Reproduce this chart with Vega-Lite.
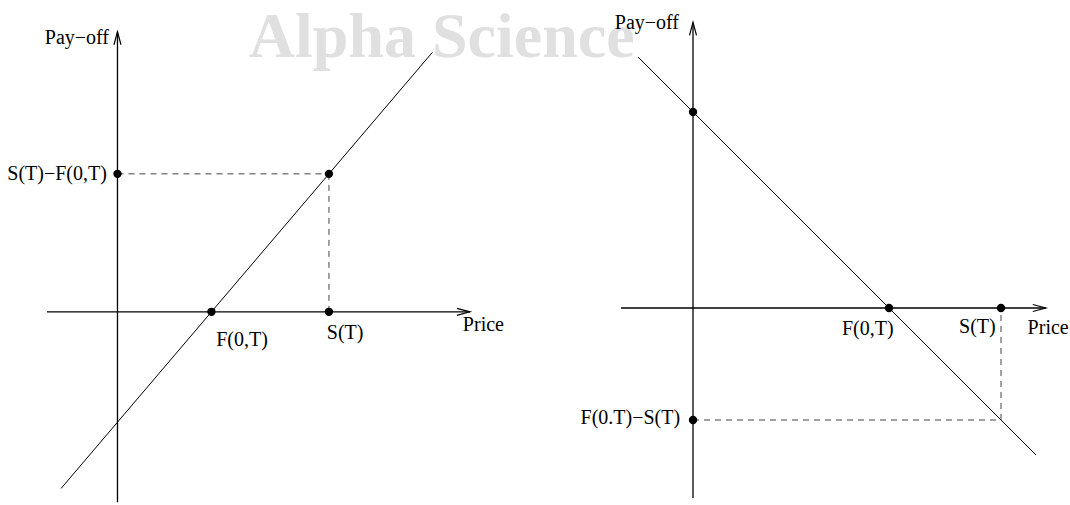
{
  "$schema": "https://vega.github.io/schema/vega-lite/v6.json",
  "padding": 0,
  "spacing": 0,
  "bounds": "flush",
  "background": "white",
  "config": {"view": {"stroke": null}},
  "hconcat": [
    {
      "width": 535,
      "height": 505,
      "encoding": {
        "x": {"field": "x", "type": "quantitative", "scale": {"domain": [-5, 17.77], "nice": false, "zero": false}, "axis": null},
        "y": {"field": "y", "type": "quantitative", "scale": {"domain": [-7, 11.3], "nice": false, "zero": false}, "axis": null}
      },
      "layer": [
        {
          "data": {"values": [{"x": 13.8, "y": 9.23, "label": "Alpha Science"}]},
          "mark": {"type": "text", "font": "Liberation Serif", "fontWeight": "bold", "fontSize": 64, "color": "#e0e0e0", "align": "center", "baseline": "alphabetic"},
          "encoding": {"text": {"field": "label"}}
        },
        {
          "data": {"values": [{"x": -3, "y": 0, "x2": 15, "y2": 0}, {"x": 0, "y": -6.9, "x2": 0, "y2": 10.15}]},
          "mark": {"type": "rule", "color": "black", "strokeWidth": 1.3},
          "encoding": {"x2": {"field": "x2"}, "y2": {"field": "y2"}}
        },
        {
          "data": {"values": [{"x": 15, "y": 0, "angle": 0}, {"x": 0, "y": 10.15, "angle": 270}]},
          "mark": {"type": "point", "shape": "M-1,-0.27L0,0L-1,0.27", "filled": false, "size": 676, "color": "black", "strokeWidth": 1.2, "opacity": 1},
          "encoding": {"angle": {"field": "angle", "type": "quantitative", "scale": null}}
        },
        {
          "data": {"values": [{"x": -2.4, "y": -6.4, "x2": 13.4, "y2": 9.4}]},
          "mark": {"type": "rule", "color": "black", "strokeWidth": 1},
          "encoding": {"x2": {"field": "x2"}, "y2": {"field": "y2"}}
        },
        {
          "data": {"values": [{"x": 0, "y": 5, "x2": 9, "y2": 5}, {"x": 9, "y": 5, "x2": 9, "y2": 0}]},
          "mark": {"type": "rule", "color": "#444444", "strokeWidth": 1, "strokeDash": [6, 5]},
          "encoding": {"x2": {"field": "x2"}, "y2": {"field": "y2"}}
        },
        {
          "data": {"values": [{"x": 0, "y": 5}, {"x": 9, "y": 5}, {"x": 4, "y": 0}, {"x": 9, "y": 0}]},
          "mark": {"type": "point", "shape": "circle", "filled": true, "size": 70, "color": "black", "opacity": 1}
        },
        {
          "data": {"values": [{"x": -0.36, "y": 9.92, "label": "Pay−off"}, {"x": -0.45, "y": 5, "label": "S(T)−F(0,T)"}]},
          "mark": {"type": "text", "font": "Liberation Serif", "fontSize": 20, "color": "black", "align": "right", "baseline": "middle"},
          "encoding": {"text": {"field": "label"}}
        },
        {
          "data": {"values": [{"x": 4.2, "y": -1.02, "label": "F(0,T)"}, {"x": 8.91, "y": -0.77, "label": "S(T)"}, {"x": 14.7, "y": -0.48, "label": "Price"}]},
          "mark": {"type": "text", "font": "Liberation Serif", "fontSize": 20, "color": "black", "align": "left", "baseline": "middle"},
          "encoding": {"text": {"field": "label"}}
        }
      ]
    },
    {
      "width": 535,
      "height": 505,
      "encoding": {
        "x": {"field": "x", "type": "quantitative", "scale": {"domain": [-5.643, 13.464], "nice": false, "zero": false}, "axis": null},
        "y": {"field": "y", "type": "quantitative", "scale": {"domain": [-7.036, 11], "nice": false, "zero": false}, "axis": null}
      },
      "layer": [
        {
          "data": {"values": [{"x": -2.57, "y": 0, "x2": 12.6, "y2": 0}, {"x": 0, "y": -6.79, "x2": 0, "y2": 10.2}]},
          "mark": {"type": "rule", "color": "black", "strokeWidth": 1.3},
          "encoding": {"x2": {"field": "x2"}, "y2": {"field": "y2"}}
        },
        {
          "data": {"values": [{"x": 12.6, "y": 0, "angle": 0}, {"x": 0, "y": 10.2, "angle": 270}]},
          "mark": {"type": "point", "shape": "M-1,-0.27L0,0L-1,0.27", "filled": false, "size": 676, "color": "black", "strokeWidth": 1.2, "opacity": 1},
          "encoding": {"angle": {"field": "angle", "type": "quantitative", "scale": null}}
        },
        {
          "data": {"values": [{"x": -1.96, "y": 8.96, "x2": 12.25, "y2": -5.25}]},
          "mark": {"type": "rule", "color": "black", "strokeWidth": 1},
          "encoding": {"x2": {"field": "x2"}, "y2": {"field": "y2"}}
        },
        {
          "data": {"values": [{"x": 0, "y": -4, "x2": 11, "y2": -4}, {"x": 11, "y": -4, "x2": 11, "y2": 0}]},
          "mark": {"type": "rule", "color": "#444444", "strokeWidth": 1, "strokeDash": [6, 5]},
          "encoding": {"x2": {"field": "x2"}, "y2": {"field": "y2"}}
        },
        {
          "data": {"values": [{"x": 0, "y": 7}, {"x": 7, "y": 0}, {"x": 11, "y": 0}, {"x": 0, "y": -4}]},
          "mark": {"type": "point", "shape": "circle", "filled": true, "size": 70, "color": "black", "opacity": 1}
        },
        {
          "data": {"values": [{"x": -0.5, "y": 10.18, "label": "Pay−off"}, {"x": -0.46, "y": -3.93, "label": "F(0.T)−S(T)"}]},
          "mark": {"type": "text", "font": "Liberation Serif", "fontSize": 20, "color": "black", "align": "right", "baseline": "middle"},
          "encoding": {"text": {"field": "label"}}
        },
        {
          "data": {"values": [{"x": 5.32, "y": -0.75, "label": "F(0,T)"}, {"x": 9.5, "y": -0.68, "label": "S(T)"}, {"x": 11.95, "y": -0.71, "label": "Price"}]},
          "mark": {"type": "text", "font": "Liberation Serif", "fontSize": 20, "color": "black", "align": "left", "baseline": "middle"},
          "encoding": {"text": {"field": "label"}}
        }
      ]
    }
  ]
}
